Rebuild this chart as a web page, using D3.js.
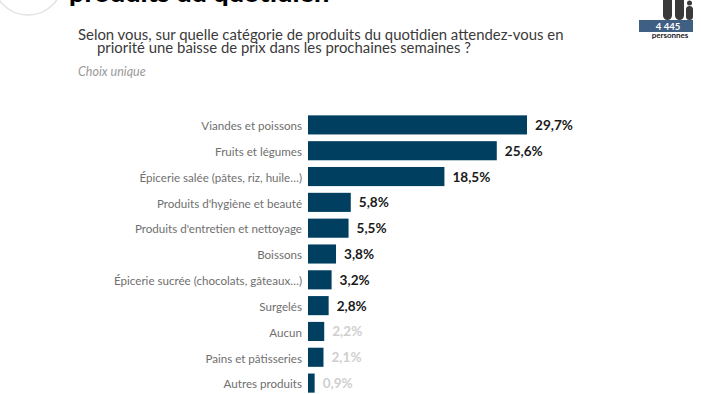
<!DOCTYPE html>
<html>
<head>
<meta charset="utf-8">
<script src="https://cdnjs.cloudflare.com/ajax/libs/d3/7.8.5/d3.min.js"></script>
<style>
html, body { margin: 0; padding: 0; background: #fff; overflow: hidden; }
text { font-family: Lato, "Open Sans", sans-serif; }
</style>
</head>
<body>
<div id="chart"></div>
<script>
var categories = ["Viandes et poissons", "Fruits et légumes", "Épicerie salée (pâtes, riz, huile…)",
    "Produits d'hygiène et beauté", "Produits d'entretien et nettoyage", "Boissons",
    "Épicerie sucrée (chocolats, gâteaux…)", "Surgelés", "Aucun", "Pains et pâtisseries", "Autres produits"];
var values = [29.7, 25.6, 18.5, 5.8, 5.5, 3.8, 3.2, 2.8, 2.2, 2.1, 0.9];
var titleText = "produits du quotidien";
var questionLines = ["Selon vous, sur quelle catégorie de produits du quotidien attendez-vous en",
    "priorité une baisse de prix dans les prochaines semaines ?"];

var width = 701, height = 394;
var svg = d3.select("#chart").append("svg").attr("width", width).attr("height", height);

// header
svg.append("circle").attr("cx", 28).attr("cy", -20).attr("r", 35)
    .attr("fill", "#fff").attr("stroke", "#e2e2e2").attr("stroke-width", 1.5);

svg.append("text").attr("x", 69).attr("y", 2)
    .attr("font-size", 27).attr("font-weight", 900).attr("fill", "#000")
    .text(titleText);

// second line is not centred under the first one in the original
svg.selectAll(".question").data(questionLines).enter().append("text")
    .attr("class", "question")
    .attr("x", function (d, i) { return i === 0 ? 78 : 97; })
    .attr("y", function (d, i) { return 40 + i * 12.5; })
    .attr("font-size", 14.9).attr("fill", "#3a3a3a")
    .text(function (d) { return d; });

svg.append("text").attr("x", 78).attr("y", 76)
    .attr("font-size", 12.5).attr("font-style", "italic").attr("fill", "#9a9a9a")
    .text("Choix unique");

// respondents badge
var badge = svg.append("g").attr("fill", "#3a3a3a");
[[667.5, 4.5, 26], [679.5, 4.5, 26], [689.5, 3.5, 14]].forEach(function (p) {
    badge.append("rect").attr("x", p[0] - p[1]).attr("y", 20 - p[2]).attr("width", p[1] * 2).attr("height", p[2]).attr("rx", p[1]);
});
svg.append("circle").attr("cx", 689.5).attr("cy", 3).attr("r", 2.5).attr("fill", "#3a3a3a");
svg.append("rect").attr("x", 639).attr("y", 20).attr("width", 54).attr("height", 12).attr("fill", "#3f5f83");
svg.append("text").attr("x", 668).attr("y", 29.5).attr("text-anchor", "middle")
    .attr("font-size", 9.5).attr("font-weight", 700).attr("fill", "#fff").text("4 445");
svg.append("text").attr("x", 670).attr("y", 38).attr("text-anchor", "middle")
    .attr("font-size", 8).attr("font-weight", 700).attr("fill", "#222").text("personnes");

// bars
var xScale = d3.scaleLinear().domain([0, 29.7]).range([308, 527]);
var yScale = d3.scaleBand().domain(categories).range([112, 396]).paddingInner(0.26).paddingOuter(0.13);

var yAxis = d3.axisLeft(yScale).tickSize(0).tickPadding(6);
var yG = svg.append("g").attr("transform", "translate(308,0)").call(yAxis);
yG.select(".domain").remove();
yG.selectAll("text").attr("font-size", 11.6).attr("font-family", "Lato, sans-serif").attr("fill", "#6f6f6f")
    .attr("dy", "0.45em");

svg.selectAll(".bar").data(values).enter().append("rect")
    .attr("class", "bar")
    .attr("x", xScale(0))
    .attr("y", function (d, i) { return yScale(categories[i]); })
    .attr("width", function (d) { return xScale(d) - xScale(0); })
    .attr("height", yScale.bandwidth())
    .attr("fill", "#003f5f");

svg.selectAll(".val").data(values).enter().append("text")
    .attr("class", "val")
    .attr("x", function (d) { return xScale(d) + 8; })
    .attr("y", function (d, i) { return yScale(categories[i]) + yScale.bandwidth() / 2 + 5; })
    .attr("font-size", 13.6).attr("font-weight", 700)
    .attr("fill", function (d) { return d < 2.5 ? "#cfcfcf" : "#1a1a1a"; })
    .text(function (d) { return String(d.toFixed(1)).replace(".", ",") + "%"; });
</script>
</body>
</html>
